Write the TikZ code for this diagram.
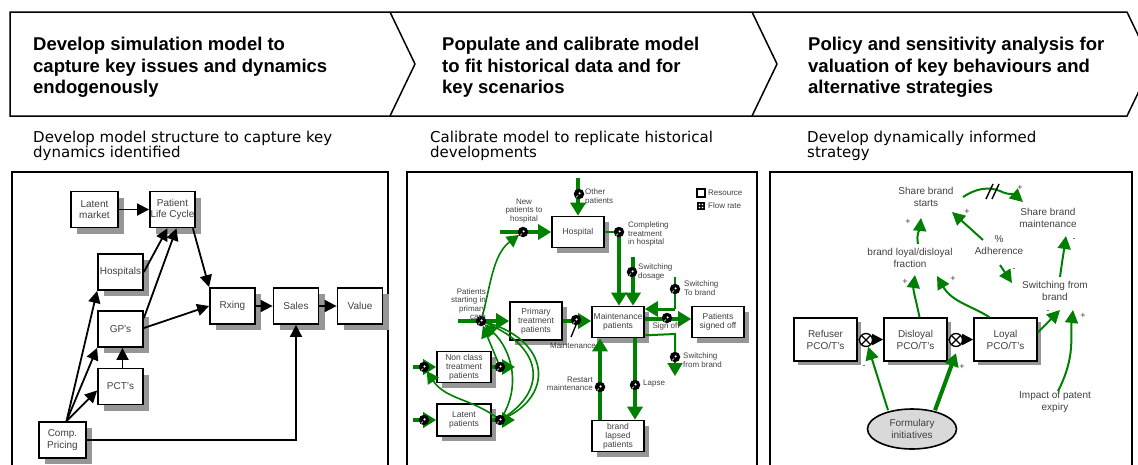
\documentclass[tikz,border=0pt]{standalone}
\usepackage{fontspec}
\setmainfont{Liberation Sans}
\newfontfamily\subfont{DejaVu Sans}
\usetikzlibrary{arrows.meta,shadows,shapes.geometric,calc}

\definecolor{flowgreen}{RGB}{0,128,0}
\definecolor{inkgray}{RGB}{64,64,64}
\definecolor{shadowgray}{RGB}{150,150,150}
\definecolor{bubblegray}{RGB}{217,217,217}

\begin{document}
\begin{tikzpicture}[x=1pt,y=-1pt,
  headtext/.style={anchor=north west, inner sep=0pt, align=left, font=\bfseries\fontsize{18.5}{21.5}\selectfont},
  subtext/.style={anchor=north west, inner sep=0pt, align=left, font=\subfont\fontsize{15}{15}\selectfont},
  panel/.style={draw, line width=2pt},
  boxshadow/.style={drop shadow={shadow xshift=#1, shadow yshift=-#1, fill=shadowgray, opacity=1}},
  boxA/.style={draw, line width=1.8pt, fill=white, inner sep=0pt, align=center, text=inkgray,
    minimum width=45pt, minimum height=36pt, font=\fontsize{10}{11.5}\selectfont, boxshadow=6pt},
  arA/.style={line width=1.8pt, -{Triangle[length=12pt,width=12pt]}},
  boxB/.style={draw, line width=1.6pt, fill=white, inner sep=0pt, align=center, text=inkgray,
    minimum width=52pt, minimum height=31pt, font=\fontsize{8.5}{8.8}\selectfont, boxshadow=5pt},
  flowB/.style={draw=flowgreen, line width=4pt, -{Triangle[length=13pt,width=15pt]}},
  thinB/.style={draw=flowgreen, line width=2pt},
  infoB/.style={draw=flowgreen, line width=1.6pt, -{Triangle[length=12pt,width=13pt]}},
  valveB/.style={circle, fill=black, inner sep=0pt, minimum size=10.5pt,
    path picture={\fill[white] ([xshift=0.6pt,yshift=0.6pt]path picture bounding box.center) circle (1.2pt);
      \draw[white, line width=0.6pt] ([xshift=-3pt,yshift=-3.5pt]path picture bounding box.center) -- ([xshift=-1pt,yshift=-1.5pt]path picture bounding box.center);}},
  lblB/.style={inner sep=0pt, align=left, text=inkgray, font=\fontsize{8}{8.5}\selectfont},
  boxC/.style={draw, line width=1.6pt, fill=white, inner sep=0pt, align=center, text=inkgray,
    minimum width=63pt, minimum height=43pt, font=\fontsize{10}{12}\selectfont, boxshadow=4pt},
  lblC/.style={inner sep=0pt, align=center, text=inkgray, font=\fontsize{10}{12}\selectfont},
  arC/.style={line width=1.6pt, -{Triangle[length=11pt,width=11pt]}},
  valveC/.style={circle, draw, line width=1.3pt, fill=white, inner sep=0pt, minimum size=13pt,
    path picture={\draw[line width=1.1pt] (path picture bounding box.south west) -- (path picture bounding box.north east)
      (path picture bounding box.north west) -- (path picture bounding box.south east);}},
  linkC/.style={draw=flowgreen, line width=2pt, -{Triangle[length=13pt,width=13pt]}},
  sign/.style={inner sep=0pt, font=\fontsize{9}{9}\selectfont, text=inkgray}
]
\useasboundingbox (0,0) rectangle (1138,464);
\clip (0,0) rectangle (1138,464);

% ---------- process chevrons ----------
\draw[line width=1.5pt, line join=miter] (10,12) -- (1127,12) -- (1152,64) -- (1127,116) -- (10,116) -- cycle;
\draw[line width=1.5pt] (390,12) -- (415,64) -- (390,116);
\draw[line width=1.5pt] (752,12) -- (777,64) -- (752,116);

\node[headtext] (h1) at (33,37) {Develop simulation model to\\capture key issues and dynamics\\endogenously};
\node[headtext] (h2) at (442,37) {Populate and calibrate model\\to fit historical data and for\\key scenarios};
\node[headtext] (h3) at (808,37) {Policy and sensitivity analysis for\\valuation of key behaviours and\\alternative strategies};

\node[subtext] (s1) at (33,131) {Develop model structure to capture key\\dynamics identified};
\node[subtext] (s2) at (430,131) {Calibrate model to replicate historical\\developments};
\node[subtext] (s3) at (807,131) {Develop dynamically informed\\strategy};

% ---------- panel frames ----------
\draw[panel] (12,480) -- (12,172) -- (388,172) -- (388,480);
\draw[panel] (407,480) -- (407,172) -- (757,172) -- (757,480);
\draw[panel] (770,480) -- (770,172) -- (1132,172) -- (1132,480);

% ---------- panel 1: model structure ----------
\node[boxA, minimum width=47pt] (latent) at (94.5,209.5) {Latent\\market};
\node[boxA] (plc) at (172.5,209.5) {Patient\\Life Cycle};
\node[boxA] (hosp) at (120.5,272) {Hospitals};
\node[boxA] (gp) at (120.5,329) {GP's};
\node[boxA] (pct) at (120.5,386.5) {PCT's};
\node[boxA, minimum width=47pt] (comp) at (62.5,440) {Comp.\\Pricing};
\node[boxA] (rx) at (232.5,306) {Rxing};
\node[boxA] (sales) at (296,306) {Sales};
\node[boxA] (value) at (360,306) {Value};

\draw[arA] (latent) -- (plc);
\draw[arA] (hosp.east) -- ([xshift=-5pt]plc.south);
\draw[arA] ([yshift=11pt]gp.east) -- ([xshift=4pt]plc.south);
\draw[arA] ([xshift=-3pt]plc.south east) -- (rx.north west);
\draw[arA] ([yshift=1pt]gp.east) -- (rx.west);
\draw[arA] ([xshift=4pt]comp.north) -- (hosp.south west);
\draw[arA] ([xshift=4pt]comp.north) -- (gp.south west);
\draw[arA] ([xshift=4pt]comp.north) -- ([yshift=-4pt]pct.west);
\draw[arA] ([xshift=2pt]pct.north) -- ([xshift=2pt]gp.south);
\draw[arA] (comp.east) -- (comp.east -| sales.south) -- (sales.south);
\draw[arA] (rx) -- (sales);
\draw[arA] (sales) -- (value);

% ---------- panel 2: stock and flow map ----------
\node[boxB] (hospital) at (578,232) {Hospital};
\node[boxB, minimum height=38pt] (primary) at (536,321) {Primary\\treatment\\patients};
\node[boxB] (maint) at (618,322) {Maintenance\\patients};
\node[boxB] (signed) at (718,322) {Patients\\signed off};
\node[boxB, minimum width=54pt] (nonclass) at (464,367) {Non class\\treatment\\patients};
\node[boxB, minimum width=54pt, minimum height=32pt] (latentp) at (464,420) {Latent\\patients};
\node[boxB] (lapsed) at (618,436) {brand\\lapsed\\patients};

% sources and junctions of the flows
\coordinate (otherSrc) at (578,178);
\coordinate (newSrc) at (500,232);
\coordinate (complJ) at (619,232);
\coordinate (doseSrc) at (633,257);
\coordinate (toBrandSrc) at (675,277);
\coordinate (toBrandJ) at (675,309);
\coordinate (fromJ) at (675,334);
\coordinate (fromSink) at (675,376);
\coordinate (startSrc) at (458,321);
\coordinate (ncSrc) at (413,367);
\coordinate (ncSink) at (515,367);
\coordinate (ltSrc) at (413,420);
\coordinate (ltSink) at (515,420);

\draw[flowB] (otherSrc) -- (hospital.north);
\draw[flowB] (newSrc) -- (hospital.west);
\draw[thinB] (hospital.east) -- (complJ);
\draw[flowB] (complJ) -- (complJ |- maint.north);
\draw[flowB] (doseSrc) -- (doseSrc |- maint.north);
\draw[thinB] (toBrandSrc) -- (toBrandJ);
\draw[draw=flowgreen, line width=3pt, -{Triangle[length=13pt,width=15pt]}] (toBrandJ) -- (toBrandJ -| maint.east);
\draw[flowB] ($(maint.east)+(0,-3)$) -- ($(signed.west)+(0,-3)$);
\draw[thinB] ($(maint.south east)+(0,-3)$) -- (fromJ) -- ($(fromJ)+(0,20)$);
\draw[draw=flowgreen, line width=2pt, -{Triangle[length=13pt,width=15pt]}] ($(fromJ)+(0,18)$) -- (fromSink);
\draw[flowB] ($(maint.south)+(17,0)$) -- ($(lapsed.north)+(17,0)$);
\draw[flowB] ($(lapsed.north)+(-18,0)$) -- ($(maint.south)+(-18,0)$);
\draw[flowB] (primary.east) -- (primary.east -| maint.west);
\draw[flowB] (startSrc) -- (primary.west);
\draw[flowB] (ncSrc) -- (nonclass.west);
\draw[flowB] (nonclass.east) -- (ncSink);
\draw[flowB] (ltSrc) -- (latentp.west);
\draw[flowB] (latentp.east) -- (ltSink);

% information links between flows (drawn under the valves)
\coordinate (pStart) at (481,321);
\coordinate (pLtOut) at (500,420);
\coordinate (pNcOut) at (500,367);
\coordinate (pNcIn) at (424,367);
\coordinate (pNew) at (523,232);
\draw[infoB, shorten >=5pt] (pLtOut) .. controls (522,388) and (512,350) .. (pStart);
\draw[draw=flowgreen, line width=1.6pt] (pLtOut) .. controls (548,392) and (546,346) .. (pStart);
\draw[draw=flowgreen, line width=1.6pt] (pLtOut) .. controls (556,398) and (552,338) .. (pStart);
\draw[infoB, shorten >=5pt] (pLtOut) .. controls (472,398) and (446,400) .. (pNcIn);
\draw[infoB, shorten >=5pt] (pNcOut) -- (pStart);
\draw[infoB, shorten >=5pt] (pStart) .. controls (490,290) and (492,255) .. (pNew);

% flow rate valves
\node[valveB] (vOther) at (579,194) {};
\node[valveB] (vNew) at (pNew) {};
\node[valveB] (vCompl) at (619,232) {};
\node[valveB] (vDose) at (632,272) {};
\node[valveB] (vToBrand) at (675,289) {};
\node[valveB] (vSign) at (667,318) {};
\node[valveB] (vFrom) at (675,357) {};
\node[valveB] (vLapse) at (635,385) {};
\node[valveB] (vRestart) at (600,387) {};
\node[valveB] (vMaint) at (576,320) {};
\node[valveB] (vStart) at (pStart) {};
\node[valveB] (vNcIn) at (pNcIn) {};
\node[valveB] (vNcOut) at (pNcOut) {};
\node[valveB] (vLtIn) at (424,420) {};
\node[valveB] (vLtOut) at (pLtOut) {};
\draw[line width=1.3pt] ([yshift=-5pt]vMaint.center) -- ([xshift=-5pt,yshift=-17pt]vMaint.center);

% labels
\node[lblB, anchor=west] (lOther) at (585,197) {Other\\patients};
\node[lblB, align=center] (lNew) at (524,211) {New\\patients to\\hospital};
\node[lblB, anchor=west] (lCompl) at (628,234) {Completing\\treatment\\in hospital};
\node[lblB, anchor=west] (lDose) at (638,272) {Switching\\dosage};
\node[lblB, anchor=west] (lToBrand) at (684,288) {Switching\\To brand};
\node[lblB] (lSign) at (666,326) {Sign off};
\node[lblB, anchor=west] (lFrom) at (683,360) {Switching\\from brand};
\node[lblB, anchor=west] (lLapse) at (643,384) {Lapse};
\node[lblB, anchor=east, align=right] (lRestart) at (593,384) {Restart\\maintenance};
\node[lblB] (lMaint) at (573,346) {Maintenance};
\node[lblB, anchor=east, align=right] (lStart) at (486,304) {Patients\\starting in\\primary\\care};

% legend
\node[draw, line width=1.3pt, fill=white, inner sep=0pt, minimum size=8pt] (legRes) at (701,193) {};
\node[lblB, anchor=west] (legResT) at (708,193) {Resource};
\node[fill=black, inner sep=0pt, minimum size=8pt,
  path picture={\fill[white] ([xshift=-1.5pt,yshift=1.5pt]path picture bounding box.center) circle (0.8pt)
    ([xshift=1.5pt,yshift=-1.5pt]path picture bounding box.center) circle (0.8pt)
    ([xshift=1.5pt,yshift=1.5pt]path picture bounding box.center) circle (0.8pt)
    ([xshift=-1.5pt,yshift=-1.5pt]path picture bounding box.center) circle (0.8pt);}] (legFlow) at (701,206) {};
\node[lblB, anchor=west] (legFlowT) at (708,206) {Flow rate};

% ---------- panel 3: causal loop ----------
\node[lblC] (sbs) at (926,197) {Share brand\\starts};
\node[lblC] (sbm) at (1048,218) {Share brand\\maintenance};
\node[lblC] (frac) at (910,258) {brand loyal/disloyal\\fraction};
\node[lblC] (adh) at (999,245) {\%\\Adherence};
\node[lblC] (swb) at (1055,291) {Switching from\\brand};
\node[lblC] (imp) at (1055,402) {Impact of patent\\expiry};
\node[boxC] (refuser) at (825.5,339.5) {Refuser\\PCO/T's};
\node[boxC] (disloyal) at (915.5,339.5) {Disloyal\\PCO/T's};
\node[boxC] (loyal) at (1005.5,339.5) {Loyal\\PCO/T's};
\node[draw, ellipse, line width=1.6pt, fill=bubblegray, inner sep=0pt, minimum width=89pt, minimum height=40pt,
  align=center, text=inkgray, font=\fontsize{10}{12}\selectfont] (form) at (912,429) {Formulary\\initiatives};

\draw[arC] (refuser.east) -- (disloyal.west);
\draw[arC] (disloyal.east) -- (loyal.west);
\node[valveC] (vRD) at (866,340) {};
\node[valveC] (vDL) at (956,340) {};

\coordinate (sbsOut) at (963,197);
\coordinate (sbmIn) at (1023,202);
\coordinate (fracOut) at (918,244);
\coordinate (sbsIn1) at (921,218);
\coordinate (adhOut1) at (983,240);
\coordinate (sbsIn2) at (952,212);
\coordinate (adhOut2) at (1000,265);
\coordinate (swbIn1) at (1012,283);
\coordinate (swbOut) at (1060,277);
\coordinate (sbmIn2) at (1066,236);
\coordinate (fracIn1) at (915,275);
\coordinate (fracIn2) at (937,276);
\coordinate (swbIn2) at (1060,310);
\coordinate (swbIn3) at (1073,310);

\draw[linkC] (sbsOut) .. controls (975,189) and (988,186) .. (1000,191) .. controls (1008,195) and (1014,194) .. (sbmIn);
\draw[line width=1.4pt] (986,199) -- (993,184) (992,199) -- (999,184);
\draw[linkC] (fracOut) .. controls (916,234) and (920,228) .. (sbsIn1);
\draw[linkC] (adhOut1) -- (sbsIn2);
\draw[linkC] (adhOut2) -- (swbIn1);
\draw[linkC] (swbOut) .. controls (1062,262) and (1064,250) .. (sbmIn2);
\draw[linkC] ([xshift=4pt]disloyal.north) .. controls (916,300) and (913,290) .. (fracIn1);
\draw[linkC] ([xshift=-16pt]loyal.north) .. controls (972,306) and (952,302) .. (fracIn2);
\draw[linkC] ([yshift=7pt]loyal.east) -- (swbIn2);
\draw[linkC] ([xshift=3pt]imp.north) .. controls (1076,356) and (1070,336) .. (swbIn3);
\draw[linkC] ([xshift=-24pt,yshift=-2pt]form.north) -- (vRD);
\draw[draw=flowgreen, line width=4pt, -{Triangle[length=13pt,width=14pt]}] ([xshift=23pt,yshift=-2pt]form.north) -- ([yshift=-6pt]vDL.south);

\node[sign] (p1) at (1020,188) {+};
\node[sign] (p2) at (908,222) {+};
\node[sign] (p3) at (967,212) {+};
\node[sign] (m1) at (1014,270) {-};
\node[sign] (m2) at (1074,240) {-};
\node[sign] (p4) at (905,282) {+};
\node[sign] (p5) at (953,279) {+};
\node[sign] (m3) at (1048,312) {-};
\node[sign] (p6) at (1083,316) {+};
\node[sign] (m4) at (864,367) {-};
\node[sign] (p7) at (962,367) {+};

\end{tikzpicture}
\end{document}
